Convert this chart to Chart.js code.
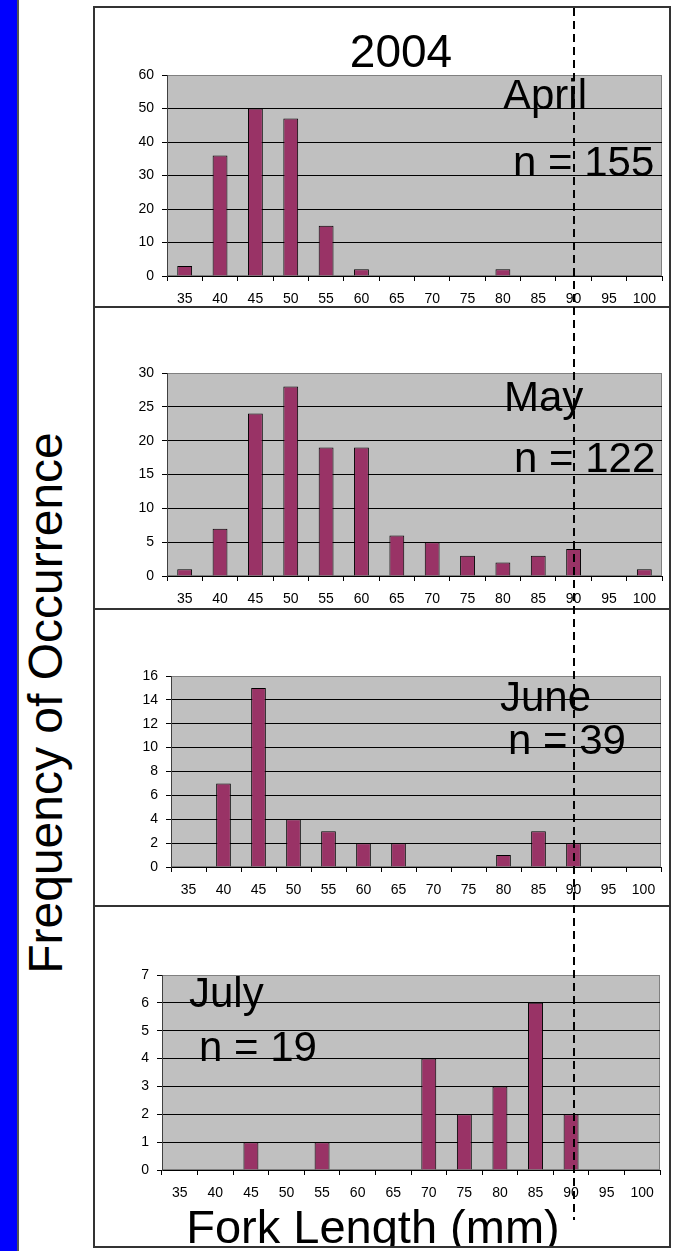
<!DOCTYPE html>
<html>
<head>
<meta charset="utf-8">
<title>Fork length frequency, 2004</title>
<script src="https://cdn.jsdelivr.net/npm/chart.js@4.4.1/dist/chart.umd.min.js"></script>
<style>
  html, body { margin: 0; padding: 0; background: #fff; }
  body {
    width: 673px; height: 1251px; position: relative; overflow: hidden;
    font-family: "Liberation Sans", Arial, Helvetica, sans-serif; color: #000;
  }
  .abs { position: absolute; }
  #sidebar { left: 0; top: 0; width: 17px; height: 1251px; background: #0000ff; }
  #sideline { left: 17px; top: 0; width: 2px; height: 1251px; background: #555; }
  #frame {
    left: 93px; top: 6px; width: 574px; height: 1238px;
    border: 2px solid #333; overflow: hidden;
  }
  .sep { left: 0; width: 574px; height: 2px; background: #333; }
  canvas { position: absolute; left: 0; }
  .txt { position: absolute; white-space: nowrap; line-height: 1; }
  #marker {
    width: 2px;
    background: repeating-linear-gradient(to bottom, #000 0 8px, transparent 8px 13px);
  }
  #ytitle { transform-origin: 50% 50%; }
</style>
</head>
<body>
<div id="sidebar" class="abs"></div>
<div id="sideline" class="abs"></div>
<div id="frame" class="abs"></div>

<script>
// ---- data -------------------------------------------------------------
const lengthBins  = ['35','40','45','50','55','60','65','70','75','80','85','90','95','100'];
const months      = ['April', 'May', 'June', 'July'];
const aprilCounts = [3, 36, 50, 47, 15, 2, 0, 0, 0, 2, 0, 0, 0, 0];
const mayCounts   = [1, 7, 24, 28, 19, 19, 6, 5, 3, 2, 3, 4, 0, 1];
const juneCounts  = [0, 7, 15, 4, 3, 2, 2, 0, 0, 1, 3, 2, 0, 0];
const julyCounts  = [0, 0, 1, 0, 1, 0, 0, 4, 2, 3, 6, 2, 0, 0];
const yMaxima     = [60, 30, 16, 7];
const yStepSizes  = [10, 5, 2, 1];
const markerBin   = '90';
const yearLabel   = '2004';
const xTitle      = 'Fork Length (mm)';
const yTitle      = 'Frequency of Occurrence';

// ---- layout (page pixels) ----------------------------------------------
const FRAME_X = 95, FRAME_Y = 8;        // top-left of the frame's inner area
const CANVAS_W = 574;
const Y_AXIS_W = 40, X_AXIS_H = 30;
const FONT = '"Liberation Sans", Arial, Helvetica, sans-serif';

const panels = [
  { counts: aprilCounts, top: 8,   height: 298, plot: { l: 167, r: 662, t: 75,  b: 276 },
    month: { x: 503, y: 110 }, n: { x: 513, y: 177 } },
  { counts: mayCounts,   top: 308, height: 300, plot: { l: 167, r: 662, t: 373, b: 576 },
    month: { x: 504, y: 412 }, n: { x: 514, y: 473 } },
  { counts: juneCounts,  top: 610, height: 295, plot: { l: 171, r: 661, t: 676, b: 867 },
    month: { x: 500, y: 712 }, n: { x: 508, y: 755 } },
  { counts: julyCounts,  top: 907, height: 339, plot: { l: 162, r: 660, t: 975, b: 1170 },
    month: { x: 189, y: 1008 }, n: { x: 199, y: 1062 } }
];
const separators = [306, 608, 905];

const frame = document.getElementById('frame');

function addText(text, x, baseline, size, align) {
  const el = document.createElement('div');
  el.className = 'txt';
  el.textContent = text;
  el.style.fontSize = size + 'px';
  el.style.top = (baseline - FRAME_Y - size * 0.8465) + 'px';
  if (align === 'center') {
    el.style.left = (x - FRAME_X - 300) + 'px';
    el.style.width = '600px';
    el.style.textAlign = 'center';
  } else {
    el.style.left = (x - FRAME_X) + 'px';
  }
  frame.appendChild(el);
  return el;
}

// grey plot area with a thin grey outline, painted under grid and bars
const plotBackdrop = {
  id: 'plotBackdrop',
  beforeDraw(chart) {
    const { ctx, chartArea: a } = chart;
    ctx.save();
    ctx.fillStyle = '#c0c0c0';
    ctx.fillRect(a.left, a.top, a.right - a.left, a.bottom - a.top);
    ctx.strokeStyle = '#808080';
    ctx.lineWidth = 1;
    ctx.strokeRect(Math.round(a.left) + 0.5, Math.round(a.top) + 0.5,
                   Math.round(a.right - a.left) - 1, Math.round(a.bottom - a.top) - 1);
    ctx.restore();
  }
};

const tickFont = { family: FONT, size: 14 };

const charts = panels.map((p, i) => {
  const canvas = document.createElement('canvas');
  canvas.width = CANVAS_W;
  canvas.height = p.height;
  canvas.style.top = (p.top - FRAME_Y) + 'px';
  frame.appendChild(canvas);

  const yMax = yMaxima[i];
  return new Chart(canvas, {
    type: 'bar',
    data: {
      labels: lengthBins,
      datasets: [{
        label: months[i],
        data: p.counts,
        backgroundColor: '#993366',
        borderColor: '#000',
        borderWidth: c => (c.raw ? 1 : 0),
        borderSkipped: 'start',
        barPercentage: 0.42,
        categoryPercentage: 1
      }]
    },
    options: {
      responsive: false,
      animation: false,
      events: [],
      layout: {
        padding: {
          left: p.plot.l - FRAME_X - Y_AXIS_W,
          right: FRAME_X + CANVAS_W - p.plot.r,
          top: p.plot.t - p.top,
          bottom: p.top + p.height - p.plot.b - X_AXIS_H
        }
      },
      plugins: {
        legend: { display: false },
        tooltip: { enabled: false },
        title: { display: false }
      },
      scales: {
        x: {
          type: 'category',
          offset: true,
          grid: { offset: true, drawOnChartArea: false, drawTicks: true, tickLength: 5, color: '#000' },
          border: { display: true, color: '#000', width: 1 },
          ticks: { color: '#000', font: tickFont, padding: 10, maxRotation: 0, autoSkip: false },
          afterFit: s => { s.height = X_AXIS_H; }
        },
        y: {
          min: 0,
          max: yMax,
          grid: {
            color: c => (c.tick && c.tick.value === yMax ? '#808080' : '#000'),
            tickColor: '#000',
            tickLength: 5,
            drawTicks: true
          },
          border: { display: true, color: '#404040', width: 1 },
          ticks: { stepSize: yStepSizes[i], color: '#000', font: tickFont, padding: 8 },
          afterFit: s => { s.width = Y_AXIS_W; }
        }
      }
    },
    plugins: [plotBackdrop]
  });
});

// panel dividers
separators.forEach(y => {
  const d = document.createElement('div');
  d.className = 'abs sep';
  d.style.top = (y - FRAME_Y) + 'px';
  frame.appendChild(d);
});

// titles and per-month annotations
addText(yearLabel, 401, 67, 46, 'center');
panels.forEach((p, i) => {
  const total = p.counts.reduce((s, v) => s + v, 0);
  addText(months[i], p.month.x, p.month.y, 42);
  addText('n = ' + total, p.n.x, p.n.y, 42);
});
addText(xTitle, 373, 1243, 47, 'center');

// rotated y-axis title, outside the frame
const yt = document.createElement('div');
yt.id = 'ytitle';
yt.className = 'txt';
yt.textContent = yTitle;
yt.style.fontSize = '48px';
document.body.appendChild(yt);
const ytW = yt.offsetWidth, ytH = yt.offsetHeight;
yt.style.left = (46 - ytW / 2) + 'px';
yt.style.top = (703 - ytH / 2) + 'px';
yt.style.transform = 'rotate(-90deg)';

// dashed marker at the 90 mm bin, placed from the top panel's x scale
const xScale = charts[0].scales.x;
const markerX = xScale.getPixelForTick(lengthBins.indexOf(markerBin));
const marker = document.createElement('div');
marker.id = 'marker';
marker.className = 'abs';
marker.style.left = (markerX - 1) + 'px';
marker.style.top = '0px';
marker.style.height = (1220 - FRAME_Y) + 'px';
frame.appendChild(marker);
</script>
</body>
</html>
